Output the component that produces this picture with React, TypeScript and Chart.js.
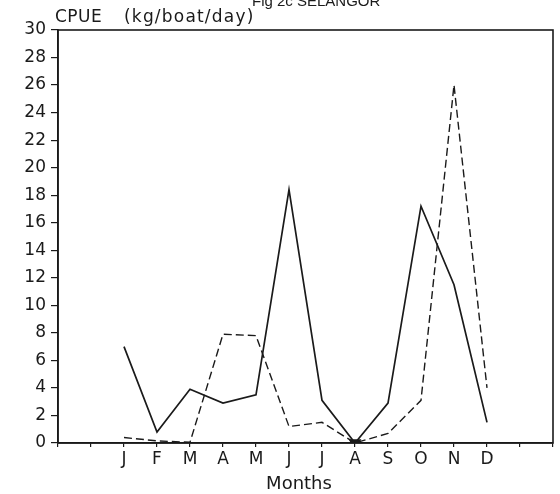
import React, { useEffect, useRef } from "react";
import { Chart, registerables } from "chart.js";

Chart.register(...registerables);

const months = ["", "", "J", "F", "M", "A", "M", "J", "J", "A", "S", "O", "N", "D", "", ""];
const monthPositions = [2, 3, 4, 5, 6, 7, 8, 9, 10, 11, 12, 13];
const solidSeries = [7.0, 0.8, 3.9, 2.9, 3.5, 18.4, 3.1, 0, 2.9, 17.2, 11.5, 1.5];
const dashedSeries = [0.4, 0.15, 0.05, 7.9, 7.8, 1.2, 1.5, 0, 0.7, 3.1, 26.0, 4.0];
const yTicks = [0, 2, 4, 6, 8, 10, 12, 14, 16, 18, 20, 22, 24, 26, 28, 30];

const FONT = "'DejaVu Sans', 'Liberation Sans', sans-serif";
const INK = "#1a1a1a";

export default function App() {
  const ref = useRef<HTMLCanvasElement | null>(null);

  useEffect(() => {
    if (!ref.current) return;
    const textPlugin = {
      id: "texts",
      afterDraw(chart: any) {
        const ctx = chart.ctx;
        const a = chart.chartArea;
        ctx.save();
        ctx.strokeStyle = INK;
        ctx.lineWidth = 1.6;
        ctx.strokeRect(a.left, a.top, a.right - a.left, a.bottom - a.top);
        ctx.fillStyle = INK;
        ctx.textBaseline = "alphabetic";
        ctx.textAlign = "left";
        ctx.font = "15px 'Liberation Sans', Arial, sans-serif";
        ctx.fillText("Fig 2c SELANGOR", 252, 6);
        ctx.font = "17px " + FONT;
        (ctx as any).letterSpacing = "0.5px";
        ctx.fillText("CPUE", 55, 22);
        (ctx as any).letterSpacing = "1.2px";
        ctx.fillText("(kg/boat/day)", 124, 22);
        (ctx as any).letterSpacing = "0px";
        ctx.textAlign = "center";
        ctx.font = "18px " + FONT;
        ctx.fillText("Months", 299, 489);
        ctx.restore();
      },
    };

    const chart = new Chart(ref.current, {
      type: "line",
      data: {
        datasets: [
          {
            label: "solid",
            data: monthPositions.map((x, i) => ({ x, y: solidSeries[i] })),
            borderColor: INK,
            borderWidth: 1.7,
            pointRadius: 0,
            fill: false,
            tension: 0,
          },
          {
            label: "dashed",
            data: monthPositions.map((x, i) => ({ x, y: dashedSeries[i] })),
            borderColor: INK,
            borderWidth: 1.4,
            borderDash: [8, 4],
            pointRadius: monthPositions.map((x) => (x === 9 ? 6 : 0)),
            pointStyle: "triangle",
            rotation: 180,
            pointBackgroundColor: INK,
            pointBorderColor: INK,
            fill: false,
            tension: 0,
          },
        ],
      },
      options: {
        animation: false,
        responsive: false,
        maintainAspectRatio: false,
        layout: { padding: { top: 30, right: 7, left: 0, bottom: 0 } },
        plugins: {
          legend: { display: false },
          tooltip: { enabled: false },
          title: { display: false },
        },
        scales: {
          x: {
            type: "linear",
            min: 0,
            max: 15,
            afterFit: (s: any) => {
              s.height = 51;
            },
            afterBuildTicks: (s: any) => {
              s.ticks = months.map((_, i) => ({ value: i }));
            },
            border: { display: true, color: INK, width: 1.6 },
            grid: { display: true, drawOnChartArea: false, drawTicks: true, tickLength: 4, color: INK, lineWidth: 1.2 },
            ticks: {
              autoSkip: false,
              maxRotation: 0,
              padding: 2,
              color: INK,
              font: { family: FONT, size: 17 },
              callback: (v: any) => months[Math.round(Number(v))] ?? "",
            },
          },
          y: {
            type: "linear",
            min: 0,
            max: 30,
            afterFit: (s: any) => {
              s.width = 58;
            },
            afterBuildTicks: (s: any) => {
              s.ticks = yTicks.map((v) => ({ value: v }));
            },
            border: { display: true, color: INK, width: 1.6 },
            grid: { display: true, drawOnChartArea: false, drawTicks: true, tickLength: 7, color: INK, lineWidth: 1.2 },
            ticks: {
              padding: 5,
              color: INK,
              font: { family: FONT, size: 17 },
              callback: (v: any) => String(v),
            },
          },
        },
      },
      plugins: [textPlugin],
    });
    return () => chart.destroy();
  }, []);

  return (
    <div style={{ position: "absolute", left: 0, top: 0, width: 560, height: 494, background: "#fff" }}>
      <canvas ref={ref} width={560} height={494} style={{ width: 560, height: 494, display: "block" }} />
    </div>
  );
}
